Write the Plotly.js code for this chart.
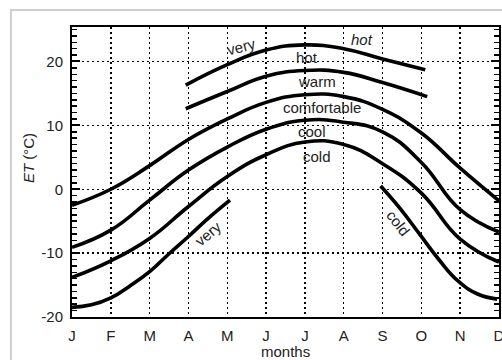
<!DOCTYPE html>
<html>
<head>
<meta charset="utf-8">
<script src="https://cdn.plot.ly/plotly-3.0.1.min.js"></script>
<style>
html,body{margin:0;padding:0;background:#fff;}
#chart{width:502px;height:360px;}
</style>
</head>
<body>
<div id="chart"></div>
<script>
// month positions and labels
var monthPos = [0, 1, 2, 3, 4, 5, 6, 7, 8, 9, 10, 11];
var monthLabels = ['J', 'F', 'M', 'A', 'M', 'J', 'J', 'A', 'S', 'O', 'N', 'D'];
var yTicks = [-20, -10, 0, 10, 20];
var yTickLabels = ['-20', '-10', '0', '10', '20'];

// boundary: very hot / hot
var veryHotX = [2.93, 4, 5, 6, 7, 8, 9.1];
var veryHotY = [16.3, 19.5, 21.8, 22.6, 22.0, 20.4, 18.7];
// boundary: hot / warm
var hotX = [2.93, 4, 5, 6, 7, 8, 9.15];
var hotY = [12.6, 15.3, 17.7, 18.6, 18.3, 16.7, 14.5];
// boundary: warm / comfortable (monthly)
var warmY = [-2.5, 0.0, 3.7, 7.8, 11.0, 13.6, 14.8, 14.5, 12.5, 8.8, 3.3, -1.8];
// boundary: comfortable / cool (monthly)
var comfY = [-9.1, -6.4, -1.7, 3.0, 6.6, 9.4, 10.8, 10.5, 9.0, 4.2, -3.2, -6.7];
// boundary: cool / cold (monthly)
var coolY = [-13.8, -11.2, -7.7, -2.7, 2.0, 5.4, 7.4, 7.0, 4.0, -0.6, -7.8, -11.4];
// boundary: cold / very cold (spring and autumn segments)
var coldSpringX = [0, 0.5, 1, 1.5, 2, 2.5, 3, 3.5, 4.07];
var coldSpringY = [-18.5, -18.1, -17.0, -15.1, -12.9, -10.1, -7.4, -4.6, -1.7];
var coldAutumnX = [7.95, 8.45, 8.95, 9.45, 9.95, 10.45, 10.95];
var coldAutumnY = [0.5, -3.0, -7.0, -11.0, -14.4, -16.4, -17.2];

// zone labels
var labelText = ['very', 'hot', 'hot', 'warm', 'comfortable', 'cool', 'cold', 'very', 'cold'];
var labelX = [4.37, 7.47, 6.05, 6.3, 6.43, 6.18, 6.3, 3.51, 8.41];
var labelY = [22.3, 23.5, 20.7, 16.9, 12.8, 9.0, 5.1, -7.0, -5.4];

var lineStyle = {color: '#000', width: 3.6, shape: 'spline', smoothing: 1.3};
function tr(x, y) {
  return {x: x, y: y, type: 'scatter', mode: 'lines', line: lineStyle, hoverinfo: 'skip', showlegend: false};
}
var traces = [
  tr(veryHotX, veryHotY),
  tr(hotX, hotY),
  tr(monthPos, warmY),
  tr(monthPos, comfY),
  tr(monthPos, coolY),
  tr(coldSpringX, coldSpringY),
  tr(coldAutumnX, coldAutumnY)
];

var FONT = 'Liberation Sans, Arial, sans-serif';
var angles = [-15, 0, 0, 0, 0, 0, 0, -40, 52];
var italics = [false, true, false, false, false, false, false, false, false];
var annotations = labelText.map(function (t, i) {
  return {
    x: labelX[i], y: labelY[i], xref: 'x', yref: 'y',
    text: italics[i] ? '<i>' + t + '</i>' : t,
    showarrow: false, textangle: angles[i],
    font: {family: FONT, size: 15, color: '#222'}
  };
});
annotations.push({
  x: -0.103, y: 0.548, xref: 'paper', yref: 'paper',
  text: '<i>ET</i> (°C)', textangle: -90, showarrow: false,
  xanchor: 'center', yanchor: 'middle',
  font: {family: FONT, size: 15, color: '#222'}
});
annotations.push({
  x: 0.5, y: -0.118, xref: 'paper', yref: 'paper',
  text: 'months', showarrow: false, xanchor: 'center', yanchor: 'middle',
  font: {family: FONT, size: 15, color: '#222'}
});

var layout = {
  width: 502, height: 360,
  margin: {l: 72, r: 3, t: 27, b: 43},
  paper_bgcolor: '#fff', plot_bgcolor: '#fff',
  font: {family: FONT, size: 15, color: '#222'},
  xaxis: {
    range: [0, 11], tickvals: monthPos, ticktext: monthLabels,
    showgrid: true, gridcolor: '#000', gridwidth: 1.4, griddash: '2px,3px',
    zeroline: false, showline: true, linecolor: '#000', linewidth: 2, mirror: true,
    ticks: '', ticklabelstandoff: 4, ticklabeloverflow: 'allow', fixedrange: true
  },
  yaxis: {
    range: [-20, 25.4], tickvals: yTicks, ticktext: yTickLabels,
    showgrid: true, gridcolor: '#000', gridwidth: 1.4, griddash: '2px,3px',
    zeroline: false, showline: true, linecolor: '#000', linewidth: 2, mirror: 'ticks',
    ticks: 'inside', ticklen: 8, tickwidth: 2, tickcolor: '#000',
    minor: {dtick: 1, tick0: 0, ticks: 'inside', ticklen: 5, tickwidth: 1.5, tickcolor: '#000', showgrid: false},
    ticklabelstandoff: 4, fixedrange: true
  },
  shapes: [{
    type: 'rect', xref: 'paper', yref: 'paper',
    x0: -0.143, x1: 1.2, y0: -0.3, y1: 1.059,
    line: {color: '#cfcfcf', width: 2}, fillcolor: 'rgba(0,0,0,0)', layer: 'below'
  }],
  annotations: annotations
};

Plotly.newPlot('chart', traces, layout, {displayModeBar: false, staticPlot: true});
</script>
</body>
</html>
